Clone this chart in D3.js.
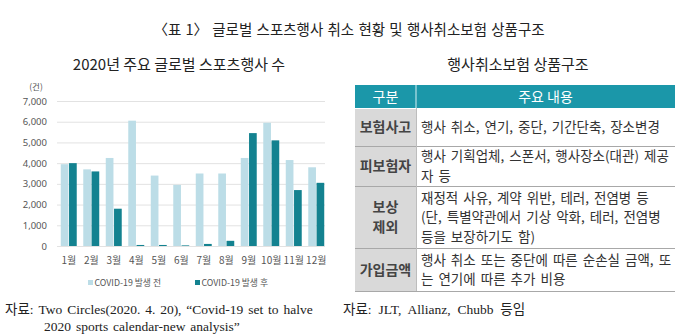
<!DOCTYPE html>
<html>
<head>
<meta charset="utf-8">
<script src="https://cdn.jsdelivr.net/npm/d3@7"></script>
<style>
  html, body { margin: 0; padding: 0; background: #fff; }
  svg { display: block; }
  text { font-family: "Noto Sans CJK KR", "Noto Sans", sans-serif; }
  .serif { font-family: "Liberation Serif", "Noto Sans CJK KR", serif; }
</style>
</head>
<body>
<svg id="fig" width="700" height="336"></svg>
<script>
// Monthly counts of major global sports events, 2020
const months = ["1월","2월","3월","4월","5월","6월","7월","8월","9월","10월","11월","12월"];
const seriesNames = ["COVID-19 발생 전", "COVID-19 발생 후"];
const beforeCovid = [3950, 3700, 4250, 6050, 3400, 2950, 3500, 3500, 4250, 5950, 4150, 3800];
const afterCovid  = [4000, 3600, 1800,   50,   50,   30,  100,  250, 5450, 5100, 2700, 3050];
const yTicks = [0, 1000, 2000, 3000, 4000, 5000, 6000, 7000];

// Insurance product structure table
const tableHeader = ["구분", "주요 내용"];
const rowLabels = [["보험사고"], ["피보험자"], ["보상", "제외"], ["가입금액"]];
const rowContents = [
  ["행사 취소, 연기, 중단, 기간단축, 장소변경"],
  ["행사 기획업체, 스폰서, 행사장소(대관) 제공", "자 등"],
  ["재정적 사유, 계약 위반, 테러, 전염병 등", "(단, 특별약관에서 기상 악화, 테러, 전염병", "등을 보장하기도 함)"],
  ["행사 취소 또는 중단에 따른 순손실 금액, 또", "는 연기에 따른 추가 비용"]
];

const colors = { before: "#bcdde7", after: "#138290", header: "#1b97a9", labelBg: "#d9d9d9" };

const svg = d3.select("#fig");

// Main caption
svg.append("text").attr("x", 349).attr("y", 35).attr("text-anchor", "middle")
  .attr("font-size", 14.5).attr("fill", "#222").attr("word-spacing", 1)
  .text("〈표 1〉 글로벌 스포츠행사 취소 현황 및 행사취소보험 상품구조");

// ---------- Bar chart ----------
svg.append("text").attr("x", 179).attr("y", 70).attr("text-anchor", "middle")
  .attr("font-size", 15).attr("fill", "#222").text("2020년 주요 글로벌 스포츠행사 수");

const x0 = d3.scaleBand().domain(months).range([57.5, 327.5]).paddingInner(0.29).paddingOuter(0.145);
const x1 = d3.scaleBand().domain(["before", "after"]).range([0, x0.bandwidth()]).paddingInner(0.07);
const y = d3.scaleLinear().domain([0, 7000]).range([246, 101]);

// Gridlines and tick labels
const yAxis = d3.axisLeft(y).tickValues(yTicks).tickSize(-268).tickFormat(d3.format(","));
const gy = svg.append("g").attr("transform", "translate(57,0)").call(yAxis);
gy.select(".domain").remove();
gy.selectAll(".tick line").attr("stroke", "#e2e2e2").attr("stroke-width", 1);
gy.selectAll(".tick text").attr("x", -10).attr("fill", "#555").attr("font-size", 9.5)
  .style("font-family", "\"Noto Sans\", sans-serif");

svg.append("text").attr("x", 36).attr("y", 90).attr("text-anchor", "middle")
  .attr("font-size", 8.5).attr("fill", "#555").text("(건)");

const rows = months.map((m, i) => ({ m, before: beforeCovid[i], after: afterCovid[i] }));
const groups = svg.append("g").selectAll("g").data(rows).join("g")
  .attr("transform", d => `translate(${x0(d.m)},0)`);
groups.append("rect").attr("x", x1("before")).attr("width", x1.bandwidth())
  .attr("y", d => y(d.before)).attr("height", d => y(0) - y(d.before)).attr("fill", colors.before);
groups.append("rect").attr("x", x1("after")).attr("width", x1.bandwidth())
  .attr("y", d => y(d.after)).attr("height", d => y(0) - y(d.after)).attr("fill", colors.after);

// Month labels
const xAxis = d3.axisBottom(x0).tickSize(0).tickPadding(0);
const gx = svg.append("g").attr("transform", "translate(0,257)").call(xAxis);
gx.select(".domain").remove();
gx.selectAll(".tick text").attr("fill", "#555").attr("font-size", 10).attr("dy", "0.7em");

// Legend
const legend = svg.append("g").attr("transform", "translate(88,283)");
const legendItems = [{ name: seriesNames[0], c: colors.before, dx: 0 }, { name: seriesNames[1], c: colors.after, dx: 107 }];
legendItems.forEach(it => {
  legend.append("rect").attr("x", it.dx).attr("y", -3).attr("width", 5).attr("height", 5).attr("fill", it.c);
  legend.append("text").attr("x", it.dx + 6.5).attr("y", 2.5).attr("font-size", 8.8)
    .attr("fill", "#555").text(it.name);
});

// ---------- Table ----------
svg.append("text").attr("x", 518).attr("y", 70).attr("text-anchor", "middle")
  .attr("font-size", 15).attr("fill", "#222").text("행사취소보험 상품구조");

const tLeft = 355, tDiv = 416, tRight = 675;
const headTop = 85, headBottom = 108;
const rowEdges = [108, 146, 186, 248, 291];
const lineH = 19.5;

svg.append("rect").attr("x", tLeft).attr("y", headTop).attr("width", tRight - tLeft)
  .attr("height", headBottom - headTop).attr("fill", colors.header);
svg.append("line").attr("x1", tDiv).attr("x2", tDiv).attr("y1", headTop).attr("y2", headBottom)
  .attr("stroke", "#d6f0f4").attr("stroke-width", 1);
svg.append("text").attr("x", (tLeft + tDiv) / 2).attr("y", 101.5).attr("text-anchor", "middle")
  .attr("font-size", 14).attr("fill", "#fff").text(tableHeader[0]);
svg.append("text").attr("x", (tDiv + tRight) / 2).attr("y", 101.5).attr("text-anchor", "middle")
  .attr("font-size", 14).attr("fill", "#fff").text(tableHeader[1]);

rowLabels.forEach((lab, i) => {
  const top = rowEdges[i], bottom = rowEdges[i + 1], mid = (top + bottom) / 2;
  svg.append("rect").attr("x", tLeft).attr("y", top + 1).attr("width", tDiv - tLeft)
    .attr("height", bottom - top - 1).attr("fill", colors.labelBg);
  const startL = mid - (lab.length - 1) * lineH / 2;
  lab.forEach((s, k) => {
    svg.append("text").attr("x", (tLeft + tDiv) / 2).attr("y", startL + k * lineH + 5)
      .attr("text-anchor", "middle").attr("font-size", 14).attr("font-weight", 700)
      .attr("fill", "#444").text(s);
  });
  const cont = rowContents[i];
  const startC = mid - (cont.length - 1) * lineH / 2;
  cont.forEach((s, k) => {
    svg.append("text").attr("x", 421).attr("y", startC + k * lineH + 5)
      .attr("font-size", 13.5).attr("word-spacing", 2).attr("fill", "#333").text(s);
  });
  svg.append("line").attr("x1", tLeft).attr("x2", tRight).attr("y1", bottom + 0.5).attr("y2", bottom + 0.5)
    .attr("stroke", "#a8a8a8").attr("stroke-width", 1);
});
svg.append("line").attr("x1", tDiv + 0.5).attr("x2", tDiv + 0.5).attr("y1", headBottom).attr("y2", rowEdges[4])
  .attr("stroke", "#bdbdbd").attr("stroke-width", 1);

// ---------- Sources ----------
const src = svg.append("g").attr("fill", "#222").attr("font-size", 13.5).attr("word-spacing", 1.5);
src.append("text").attr("class", "serif").attr("x", 5).attr("y", 314)
  .text("자료: Two Circles(2020. 4. 20), “Covid-19 set to halve");
src.append("text").attr("class", "serif").attr("x", 44).attr("y", 331)
  .text("2020 sports calendar-new analysis”");
src.append("text").attr("class", "serif").attr("x", 343).attr("y", 314).attr("word-spacing", 3.5)
  .text("자료: JLT, Allianz, Chubb 등임");
</script>
</body>
</html>
